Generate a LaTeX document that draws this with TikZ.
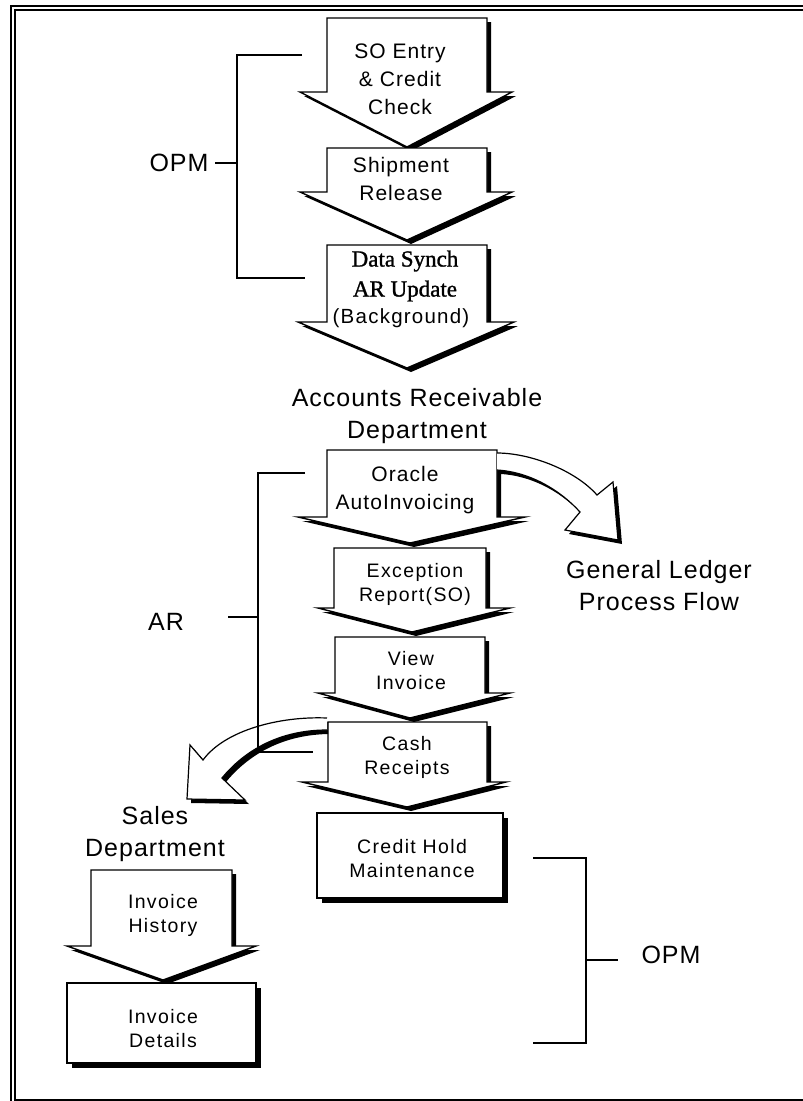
\documentclass[tikz,border=0pt]{standalone}
\usepackage{fontspec}
\setmainfont{Liberation Sans}
\newfontfamily\stepserif{Liberation Serif}

% block arrow pointing down, with a drop shadow:
% #1 left, #2 right, #3 top, #4 wing y, #5 wing left, #6 wing right, #7 tip x, #8 tip y
\newcommand\dropblock[8]{%
  \fill[shift={(4,4)}] (#1,#3) -- (#2,#3) -- (#2,#4) -- (#6,#4) -- (#7,#8) -- (#5,#4) -- (#1,#4) -- cycle;
  \filldraw[fill=white] (#1,#3) -- (#2,#3) -- (#2,#4) -- (#6,#4) -- (#7,#8) -- (#5,#4) -- (#1,#4) -- cycle;
}
% plain box with a drop shadow: #1,#2 top-left, #3,#4 bottom-right
\newcommand\dropbox[4]{%
  \fill (#1+5,#2+5) rectangle (#3+5,#4+5);
  \filldraw[fill=white] (#1,#2) rectangle (#3,#4);
}

\begin{document}
\begin{tikzpicture}[x=1pt,y=-1pt,line width=1.4pt,line join=miter,
  steptxt/.style={font=\fontsize{21}{28}\selectfont\addfontfeature{LetterSpace=5},align=center,inner sep=0pt},
  smalltxt/.style={font=\fontsize{19.5}{24}\selectfont\addfontfeature{LetterSpace=7},align=center,inner sep=0pt},
  bigtxt/.style={font=\fontsize{25}{32}\selectfont\addfontfeature{LetterSpace=4},align=center,inner sep=0pt},
  serftxt/.style={font=\fontsize{23}{30}\selectfont\stepserif\addfontfeature{FakeBold=1.2},align=center,inner sep=0pt},
  bracket/.style={line width=1.5pt}]

\useasboundingbox (0,0) rectangle (803,1101);

% frame
\draw[line width=2pt] (805,6) -- (11,6) -- (11,1103);
\draw[line width=2pt] (805,10) -- (15,10) -- (15,1100) -- (805,1100);

% order processing chain
\dropblock{327}{487}{18}{92}{300}{512}{407}{147}
\dropblock{327}{487}{148}{192}{300}{512}{407}{240}
\dropblock{327}{487}{245}{322}{298}{514}{407}{368}

\node[steptxt] (soentry) at (400,79) {SO Entry\\\& Credit\\Check};
\node[steptxt] (shipment) at (401,179) {Shipment\\Release};
\node[serftxt] (datasynch) at (405,276) {Data Synch\\AR Update};
\node[smalltxt,font=\fontsize{20.5}{24}\selectfont\addfontfeature{LetterSpace=6}] (background) at (401,318) {(Background)};

\node[bigtxt] (ardept) at (417,416) {Accounts Receivable\\Department};

% receivables chain
\dropblock{327}{497}{450}{517}{298}{525}{410}{543}

% branch to the general ledger
\fill[shift={(4,4)}] (497,453) .. controls (530,453) and (575,470) .. (597,495) -- (613,482) -- (618,540) -- (565,530) -- (580,512) .. controls (560,490) and (530,472) .. (497,470) -- cycle;
\fill[white] (497,453) .. controls (530,453) and (575,470) .. (597,495) -- (613,482) -- (618,540) -- (565,530) -- (580,512) .. controls (560,490) and (530,472) .. (497,470) -- cycle;
\draw[line width=1.2pt] (497,453) .. controls (530,453) and (575,470) .. (597,495) -- (613,482) -- (618,540) -- (565,530) -- (580,512) .. controls (560,490) and (530,472) .. (497,470);

\dropblock{334}{486}{548}{608}{318}{510}{412}{632}
\dropblock{335}{485}{637}{693}{318}{510}{410}{718}
\dropblock{328}{487}{722}{782}{302}{506}{407}{807}
\dropbox{317}{813}{503}{898}

\node[steptxt] (oracle) at (405,490) {Oracle\\AutoInvoicing};
\node[smalltxt] (exception) at (415,584) {Exception\\Report(SO)};
\node[smalltxt] (viewinv) at (411,671) {View\\Invoice};
\node[smalltxt] (cash) at (407,757) {Cash\\Receipts};
\node[smalltxt] (credithold) at (412,859) {Credit Hold\\Maintenance};

\node[bigtxt] (gl) at (659,586) {General Ledger\\Process Flow};

% branch to the sales department
\begin{scope}
  \clip (0,0) rectangle (328,1101);
  \fill[shift={(4,4)}] (327,718) .. controls (280,716) and (225,730) .. (203,760) -- (190,745) -- (187,799) -- (245,800) -- (222,778) .. controls (245,750) and (280,730) .. (327,730) -- cycle;
\end{scope}
\fill[white] (327,718) .. controls (280,716) and (225,730) .. (203,760) -- (190,745) -- (187,799) -- (245,800) -- (222,778) .. controls (245,750) and (280,730) .. (327,730) -- cycle;
\draw[line width=1.2pt] (327,718) .. controls (280,716) and (225,730) .. (203,760) -- (190,745) -- (187,799) -- (245,800) -- (222,778) .. controls (245,750) and (280,730) .. (327,730);

\node[bigtxt] (sales) at (155,834) {Sales\\Department};

\dropblock{91}{232}{870}{946}{67}{256}{163}{980}
\dropbox{67}{983}{256}{1063}
\node[smalltxt] (invhist) at (163,915) {Invoice\\History};
\node[smalltxt] (invdet) at (163,1029) {Invoice\\Details};

% brackets grouping the steps by module
\node[bigtxt] (opmtop) at (179,163) {OPM};
\draw[bracket] (302,55) -- (237,55) -- (237,278) -- (305,278);
\draw[bracket] (237,163) -- (215,163);

\node[bigtxt] (ar) at (166,622) {AR};
\draw[bracket] (305,473) -- (258,473) -- (258,752) -- (313,752);
\draw[bracket] (258,617) -- (228,617);

\node[bigtxt] (opmbot) at (671,955) {OPM};
\draw[bracket] (533,858) -- (586,858) -- (586,1043) -- (533,1043);
\draw[bracket] (586,960) -- (618,960);
\end{tikzpicture}
\end{document}
